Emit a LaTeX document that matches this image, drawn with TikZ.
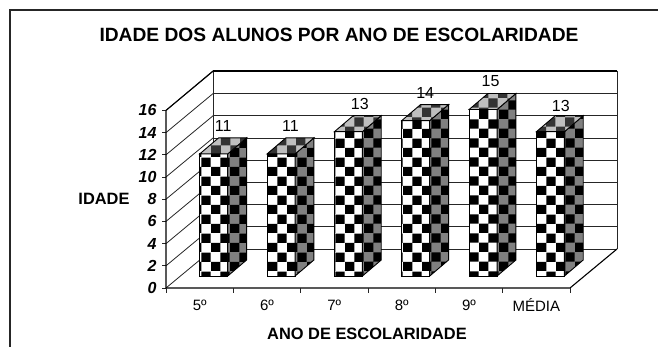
\documentclass[tikz,border=0pt]{standalone}
\usepackage{fontspec}
\setmainfont{Liberation Sans}
\usepackage{tikz}
\usetikzlibrary{patterns}
\pgfdeclarepatternformonly{xadrez}{\pgfpointorigin}{\pgfqpoint{19.2pt}{19.2pt}}{\pgfqpoint{19.2pt}{19.2pt}}{%
  \pgfpathrectangle{\pgfpointorigin}{\pgfqpoint{9.6pt}{9.6pt}}%
  \pgfpathrectangle{\pgfqpoint{9.6pt}{9.6pt}}{\pgfqpoint{9.6pt}{9.6pt}}%
  \pgfusepath{fill}}
\tikzset{
  frente/.style={draw=black, line width=0.9pt, preaction={fill=white}, pattern=xadrez, pattern color=black},
  lado/.style={draw=black, line width=0.9pt, preaction={fill=gray}, pattern=xadrez, pattern color=black},
  topo/.style={draw=black, line width=0.9pt, preaction={fill=black!25}, pattern=xadrez, pattern color=black!80},
  grelha/.style={line width=0.8pt, black!85},
  eixo/.style={line width=1.1pt},
  valor/.style={font=\fontsize{15}{17}\selectfont},
  escala/.style={anchor=east, font=\bfseries\itshape\fontsize{16}{18}\selectfont},
  titulo/.style={font=\bfseries\fontsize{16.4}{19}\selectfont}
}
% #1 = posicao da coluna, #2 = idade
\newcommand{\barra}[2]{%
  \pgfmathsetmacro{\barx}{166+67.33*#1+33.67+0.1}
  \pgfmathsetmacro{\bary}{276-11.1*#2}
  \path[frente] (\barx,276) rectangle (\barx+28,\bary);
  \path[lado] (\barx+28,276) -- ++(18.8,-16) -- (\barx+46.8,\bary-16) -- (\barx+28,\bary) -- cycle;
  \path[topo] (\barx,\bary) -- ++(18.8,-16) -- ++(28,0) -- ++(-18.8,16) -- cycle;
}

\begin{document}
\begin{tikzpicture}[x=1pt, y=-1pt, >=latex]

  \useasboundingbox (0,0) rectangle (658,347);
  \draw[line width=1.3pt, black!85] (10,347) -- (10,10) -- (658,10);

  \node[font=\bfseries\fontsize{19.2}{22}\selectfont] (t0) at (339,35) {IDADE DOS ALUNOS POR ANO DE ESCOLARIDADE};

  \begin{scope}
    % parede do fundo e parede lateral
    \foreach \k in {0,...,8} {
      \draw[grelha] (213,249-22.2*\k) -- (617,249-22.2*\k);
      \draw[grelha] (166,288-22.2*\k) -- (213,249-22.2*\k);
      \draw[grelha] (162,288-22.2*\k) -- (166,288-22.2*\k);
    }
    \draw[grelha] (213,71) -- (213,249);
    \draw[grelha] (617,71) -- (617,249);
    \draw[eixo] (213,71) -- (617,71);
    \draw[eixo] (166,110.4) -- (213,71);

    % chao
    \draw[eixo] (166,110.4) -- (166,288) -- (570,288) -- (617,249);
    \foreach \k in {0,...,6}
      \draw[grelha] (166+67.33*\k,288) -- (166+67.33*\k,293);

    \barra{0}{11}
    \barra{1}{11}
    \barra{2}{13}
    \barra{3}{14}
    \barra{4}{15}
    \barra{5}{13}

    \node[valor, font=\fontsize{16}{18}\selectfont] (v0) at (223.2,125.9) {11};
    \node[valor, font=\fontsize{16}{18}\selectfont] (v1) at (290.5,125.9) {11};
    \node[valor, font=\fontsize{16}{18}\selectfont] (v2) at (359.8,103.7) {13};
    \node[valor, font=\fontsize{16}{18}\selectfont] (v3) at (425.2,92.6) {14};
    \node[valor, font=\fontsize{16}{18}\selectfont] (v4) at (490.5,81.5) {15};
    \node[valor, font=\fontsize{16}{18}\selectfont] (v5) at (560.8,105.7) {13};

    \node[escala] (e0) at (160,288) {0};
    \node[escala] (e1) at (160,265.8) {2};
    \node[escala] (e2) at (160,243.6) {4};
    \node[escala] (e3) at (160,221.4) {6};
    \node[escala] (e4) at (160,199.2) {8};
    \node[escala] (e5) at (160,177) {10};
    \node[escala] (e6) at (160,154.8) {12};
    \node[escala] (e7) at (160,132.6) {14};
    \node[escala] (e8) at (160,110.4) {16};

    \node[valor] (c0) at (199.7,305) {5º};
    \node[valor] (c1) at (267,305) {6º};
    \node[valor] (c2) at (334.3,305) {7º};
    \node[valor] (c3) at (401.7,305) {8º};
    \node[valor] (c4) at (469,305) {9º};
    \node[valor] (c5) at (536.3,305) {MÉDIA};

    \node[titulo] (ix) at (367,334) {ANO DE ESCOLARIDADE};
    \node[titulo] (iy) at (104,199) {IDADE};
  \end{scope}

\end{tikzpicture}
\end{document}
